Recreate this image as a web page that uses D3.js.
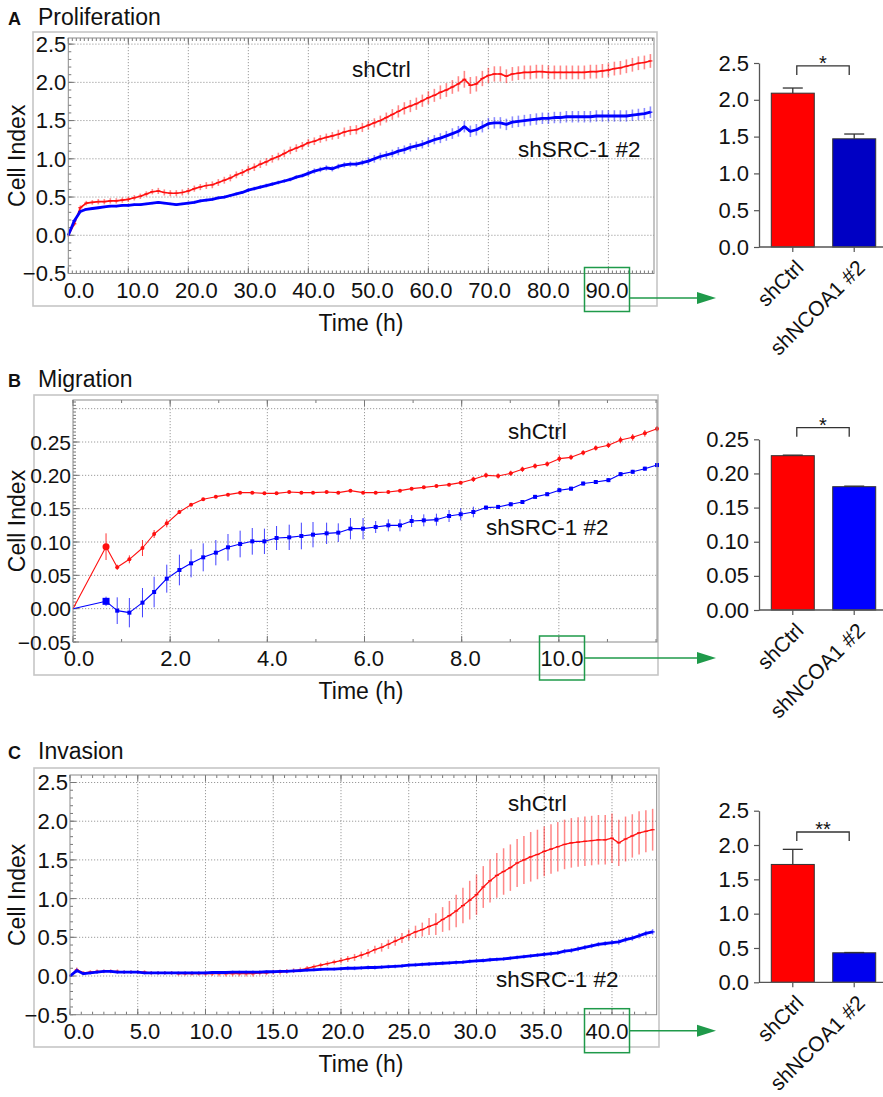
<!DOCTYPE html>
<html>
<head>
<meta charset="utf-8">
<script src="https://cdn.jsdelivr.net/npm/d3@7"></script>
<style>
  body { margin: 0; background: #fff; }
  text { font-family: "Liberation Sans", Arial, Helvetica, sans-serif; fill: #111; }
</style>
</head>
<body>
<svg id="fig" width="883" height="1097"></svg>
<script>
// ---------- data ----------

// A  Proliferation (every 1 h)
const profTime = d3.range(0, 98);
const profCtrl = [
  0.00, 0.15, 0.36, 0.42, 0.43, 0.44, 0.44, 0.45, 0.45, 0.46,
  0.47, 0.49, 0.51, 0.54, 0.57, 0.58, 0.56, 0.55, 0.55, 0.56,
  0.58, 0.61, 0.63, 0.65, 0.66, 0.69, 0.72, 0.75, 0.79, 0.82,
  0.86, 0.89, 0.93, 0.96, 1.00, 1.03, 1.07, 1.11, 1.14, 1.17,
  1.21, 1.23, 1.26, 1.28, 1.30, 1.32, 1.35, 1.37, 1.38, 1.41,
  1.44, 1.47, 1.50, 1.54, 1.58, 1.62, 1.66, 1.69, 1.72, 1.76,
  1.80, 1.83, 1.87, 1.90, 1.94, 1.98, 2.04, 1.96, 1.98, 2.05,
  2.09, 2.11, 2.11, 2.08, 2.11, 2.12, 2.13, 2.13, 2.14, 2.14,
  2.13, 2.13, 2.13, 2.13, 2.13, 2.13, 2.13, 2.14, 2.14, 2.15,
  2.16, 2.18, 2.19, 2.21, 2.23, 2.25, 2.26, 2.28];
const profCtrlErr = [
  0.02, 0.03, 0.03, 0.03, 0.03, 0.035, 0.035, 0.035, 0.035, 0.035,
  0.035, 0.035, 0.035, 0.035, 0.035, 0.04, 0.04, 0.04, 0.04, 0.04,
  0.04, 0.04, 0.04, 0.045, 0.045, 0.045, 0.045, 0.045, 0.045, 0.045,
  0.05, 0.05, 0.05, 0.05, 0.05, 0.05, 0.05, 0.05, 0.05, 0.05,
  0.05, 0.05, 0.05, 0.05, 0.05, 0.06, 0.06, 0.06, 0.06, 0.06,
  0.06, 0.06, 0.065, 0.065, 0.07, 0.08, 0.08, 0.08, 0.08, 0.08,
  0.085, 0.085, 0.09, 0.09, 0.09, 0.10, 0.11, 0.11, 0.10, 0.10,
  0.10, 0.10, 0.10, 0.09, 0.09, 0.09, 0.09, 0.09, 0.09, 0.09,
  0.09, 0.09, 0.09, 0.09, 0.09, 0.09, 0.09, 0.09, 0.09, 0.09,
  0.09, 0.09, 0.09, 0.09, 0.09, 0.09, 0.09, 0.09];
const profSrc = [
  0.00, 0.19, 0.31, 0.34, 0.35, 0.36, 0.37, 0.38, 0.38, 0.39,
  0.39, 0.40, 0.40, 0.41, 0.42, 0.43, 0.42, 0.41, 0.40, 0.41,
  0.42, 0.43, 0.45, 0.46, 0.47, 0.49, 0.50, 0.52, 0.54, 0.56,
  0.59, 0.61, 0.63, 0.65, 0.67, 0.69, 0.71, 0.73, 0.76, 0.78,
  0.81, 0.84, 0.86, 0.88, 0.87, 0.90, 0.92, 0.93, 0.93, 0.95,
  0.97, 1.00, 1.03, 1.05, 1.07, 1.10, 1.12, 1.15, 1.17, 1.19,
  1.22, 1.25, 1.27, 1.30, 1.33, 1.36, 1.42, 1.36, 1.38, 1.42,
  1.46, 1.47, 1.47, 1.45, 1.48, 1.49, 1.50, 1.51, 1.52, 1.53,
  1.53, 1.54, 1.54, 1.55, 1.55, 1.55, 1.55, 1.55, 1.56, 1.56,
  1.56, 1.56, 1.56, 1.56, 1.57, 1.58, 1.59, 1.61];
const profSrcErr = [
  0.01, 0.015, 0.015, 0.015, 0.015, 0.015, 0.015, 0.015, 0.015, 0.015,
  0.015, 0.015, 0.015, 0.015, 0.015, 0.015, 0.015, 0.015, 0.015, 0.015,
  0.02, 0.02, 0.02, 0.02, 0.02, 0.02, 0.02, 0.02, 0.02, 0.02,
  0.025, 0.025, 0.025, 0.025, 0.025, 0.025, 0.025, 0.025, 0.025, 0.025,
  0.035, 0.035, 0.035, 0.035, 0.035, 0.035, 0.035, 0.035, 0.035, 0.035,
  0.05, 0.05, 0.05, 0.05, 0.05, 0.055, 0.055, 0.055, 0.055, 0.055,
  0.06, 0.06, 0.065, 0.065, 0.07, 0.07, 0.075, 0.075, 0.075, 0.075,
  0.075, 0.075, 0.075, 0.075, 0.075, 0.075, 0.075, 0.075, 0.075, 0.075,
  0.075, 0.075, 0.075, 0.075, 0.075, 0.075, 0.075, 0.075, 0.075, 0.075,
  0.075, 0.075, 0.075, 0.075, 0.075, 0.075, 0.075, 0.075];

// B  Migration
const migTime = [
  0, 0.68, 0.91, 1.16, 1.43, 1.67, 1.93, 2.19, 2.43, 2.68,
  2.94, 3.19, 3.44, 3.69, 3.94, 4.19, 4.45, 4.70, 4.94, 5.22,
  5.46, 5.71, 5.97, 6.23, 6.49, 6.73, 6.97, 7.22, 7.48, 7.74,
  7.98, 8.24, 8.50, 8.75, 9.01, 9.25, 9.51, 9.76, 10.01, 10.25,
  10.50, 10.76, 11.02, 11.27, 11.52, 11.77, 12.02];
const migCtrl = [
  0, 0.093, 0.062, 0.074, 0.091, 0.112, 0.128, 0.145, 0.156, 0.164,
  0.168, 0.171, 0.174, 0.174, 0.173, 0.173, 0.175, 0.174, 0.174, 0.175,
  0.174, 0.177, 0.174, 0.174, 0.175, 0.177, 0.180, 0.182, 0.184, 0.186,
  0.189, 0.194, 0.200, 0.199, 0.203, 0.209, 0.214, 0.217, 0.225, 0.227,
  0.234, 0.241, 0.245, 0.253, 0.257, 0.263, 0.270];
const migCtrlErr = [
  0, 0.02, 0.004, 0.006, 0.012, 0.006, 0.006, 0.003, 0.002, 0.002,
  0.002, 0.002, 0.002, 0.002, 0.002, 0.002, 0.002, 0.002, 0.002, 0.002,
  0.002, 0.002, 0.002, 0.002, 0.002, 0.002, 0.002, 0.002, 0.002, 0.002,
  0.002, 0.004, 0.004, 0.004, 0.004, 0.004, 0.004, 0.004, 0.005, 0.004,
  0.004, 0.004, 0.004, 0.005, 0.005, 0.005, 0.004];
const migSrc = [
  0, 0.011, -0.003, -0.006, 0.009, 0.025, 0.045, 0.058, 0.068, 0.077,
  0.084, 0.092, 0.097, 0.101, 0.101, 0.106, 0.107, 0.109, 0.111, 0.113,
  0.114, 0.120, 0.120, 0.1225, 0.125, 0.125, 0.1315, 0.1325, 0.1335, 0.139,
  0.1416, 0.145, 0.1516, 0.1526, 0.1566, 0.160, 0.1677, 0.1717, 0.1777, 0.180,
  0.1877, 0.190, 0.1928, 0.2018, 0.2053, 0.210, 0.2154];
const migSrcErr = [
  0, 0.007, 0.02, 0.022, 0.022, 0.023, 0.021, 0.023, 0.021, 0.021,
  0.019, 0.02, 0.02, 0.02, 0.019, 0.018, 0.019, 0.02, 0.019, 0.016,
  0.014, 0.016, 0.016, 0.009, 0.009, 0.009, 0.009, 0.009, 0.009, 0.009,
  0.009, 0.008, 0.003, 0.003, 0.003, 0.003, 0.003, 0.003, 0.003, 0.003,
  0.003, 0.003, 0.003, 0.003, 0.003, 0.003, 0.003];

// C  Invasion (every 0.5 h)
const invTime = d3.range(0, 43.25, 0.5);
const invCtrl = [
  0.00, 0.08, 0.04, 0.05, 0.06, 0.06, 0.06, 0.06, 0.05, 0.05,
  0.05, 0.05, 0.04, 0.04, 0.04, 0.04, 0.03, 0.03, 0.03, 0.03,
  0.03, 0.03, 0.03, 0.03, 0.03, 0.03, 0.03, 0.03, 0.04, 0.04,
  0.05, 0.05, 0.06, 0.07, 0.08, 0.10, 0.12, 0.14, 0.16, 0.18,
  0.20, 0.22, 0.24, 0.27, 0.30, 0.34, 0.37, 0.41, 0.45, 0.49,
  0.53, 0.57, 0.60, 0.64, 0.67, 0.73, 0.78, 0.84, 0.91, 0.98,
  1.05, 1.15, 1.23, 1.30, 1.35, 1.40, 1.46, 1.50, 1.54, 1.57,
  1.61, 1.64, 1.67, 1.70, 1.72, 1.73, 1.74, 1.75, 1.76, 1.76,
  1.78, 1.72, 1.77, 1.81, 1.85, 1.87, 1.89];
const invCtrlErr = [
  0.01, 0.03, 0.025, 0.025, 0.025, 0.025, 0.025, 0.025, 0.025, 0.025,
  0.025, 0.025, 0.025, 0.025, 0.025, 0.025, 0.025, 0.025, 0.025, 0.025,
  0.03, 0.03, 0.035, 0.035, 0.035, 0.035, 0.035, 0.035, 0.03, 0.03,
  0.03, 0.03, 0.03, 0.03, 0.03, 0.03, 0.03, 0.03, 0.03, 0.03,
  0.04, 0.04, 0.045, 0.045, 0.05, 0.05, 0.055, 0.06, 0.06, 0.065,
  0.07, 0.08, 0.09, 0.11, 0.14, 0.16, 0.19, 0.21, 0.23, 0.25,
  0.26, 0.27, 0.28, 0.29, 0.30, 0.30, 0.31, 0.31, 0.32, 0.32,
  0.32, 0.32, 0.32, 0.32, 0.32, 0.32, 0.32, 0.32, 0.32, 0.32,
  0.32, 0.30, 0.29, 0.28, 0.28, 0.27, 0.27];
const invSrc = [
  0.00, 0.07, 0.03, 0.04, 0.05, 0.06, 0.06, 0.05, 0.05, 0.05,
  0.05, 0.04, 0.04, 0.04, 0.04, 0.04, 0.04, 0.04, 0.04, 0.04,
  0.04, 0.045, 0.045, 0.045, 0.05, 0.05, 0.05, 0.05, 0.05, 0.055,
  0.055, 0.06, 0.06, 0.065, 0.07, 0.075, 0.08, 0.085, 0.09, 0.09,
  0.095, 0.10, 0.10, 0.105, 0.11, 0.11, 0.115, 0.12, 0.125, 0.13,
  0.14, 0.145, 0.15, 0.155, 0.16, 0.165, 0.17, 0.175, 0.18, 0.19,
  0.195, 0.20, 0.21, 0.215, 0.22, 0.23, 0.24, 0.25, 0.26, 0.27,
  0.28, 0.29, 0.30, 0.32, 0.33, 0.35, 0.37, 0.39, 0.41, 0.42,
  0.43, 0.44, 0.47, 0.49, 0.52, 0.55, 0.57];
const invSrcErr = [
  0.01, 0.03, 0.02, 0.02, 0.02, 0.02, 0.02, 0.02, 0.02, 0.02,
  0.02, 0.02, 0.02, 0.02, 0.02, 0.02, 0.02, 0.02, 0.02, 0.02,
  0.02, 0.02, 0.02, 0.02, 0.02, 0.02, 0.02, 0.02, 0.02, 0.02,
  0.02, 0.02, 0.02, 0.02, 0.02, 0.02, 0.02, 0.02, 0.02, 0.02,
  0.025, 0.025, 0.025, 0.025, 0.025, 0.025, 0.025, 0.025, 0.025, 0.025,
  0.025, 0.025, 0.025, 0.025, 0.025, 0.025, 0.025, 0.025, 0.025, 0.025,
  0.025, 0.025, 0.025, 0.025, 0.025, 0.025, 0.025, 0.025, 0.025, 0.025,
  0.03, 0.03, 0.03, 0.03, 0.03, 0.03, 0.03, 0.03, 0.03, 0.03,
  0.035, 0.035, 0.035, 0.035, 0.035, 0.035, 0.035];

// bar charts (single time point)
const barGroups = ["shCtrl", "shNCOA1 #2"];
const profBar = [2.09, 1.47], profBarErr = [0.07, 0.065];
const migBar = [0.226, 0.1806], migBarErr = [0.0008, 0.0008];
const invBar = [1.717, 0.43], invBarErr = [0.22, 0.004];

// tick labels
const profXTicks = [0, 10, 20, 30, 40, 50, 60, 70, 80, 90];
const migXTicks = [0, 2, 4, 6, 8, 10];
const invXTicks = [0, 5, 10, 15, 20, 25, 30, 35, 40];
const bigYTicks = [-0.5, 0, 0.5, 1.0, 1.5, 2.0, 2.5];
const migYTicks = [-0.05, 0, 0.05, 0.10, 0.15, 0.20, 0.25];
const migYGrid = [0, 0.05, 0.10, 0.15, 0.20, 0.25, 0.30];
const barYTicksBig = [0, 0.5, 1.0, 1.5, 2.0, 2.5];
const barYTicksMig = [0, 0.05, 0.10, 0.15, 0.20, 0.25];

// ---------- drawing ----------
const svg = d3.select("#fig");
const RED = "#ff1010", BLUE = "#0000ff", GREEN = "#1f9a4a";
const FONT = '"Liberation Sans", Arial, Helvetica, sans-serif';

function signed(f) {
  const ff = d3.format(f);
  return d => (d < 0 ? "\u2212" : "") + ff(Math.abs(d));
}

function linePanel(p) {
  const g = svg.append("g");
  const x = d3.scaleLinear().domain(p.xDomain).range([p.left, p.right]);
  const y = d3.scaleLinear().domain(p.yDomain).range([p.bottom, p.top]);
  // the instrument software spreads its x labels a little narrower than the grid
  const xl = d3.scaleLinear().domain(d3.extent(p.xTicks)).range(p.labelRange);

  g.append("text").attr("x", 8).attr("y", p.titleY)
    .attr("font-size", 18).attr("font-weight", "bold").text(p.letter);
  g.append("text").attr("x", 38).attr("y", p.titleY)
    .attr("font-size", 23).text(p.title);

  g.append("rect")
    .attr("x", p.frame[0]).attr("y", p.frame[1])
    .attr("width", p.frame[2] - p.frame[0]).attr("height", p.frame[3] - p.frame[1])
    .attr("fill", "none").attr("stroke", "#c6c6c6").attr("stroke-width", 1.6);

  // dotted grid
  const grid = g.append("g").attr("stroke", "#9c9c9c").attr("stroke-width", 1)
    .attr("stroke-dasharray", "1.2,1.8");
  grid.selectAll(".gy").data(p.yGrid).join("line")
    .attr("x1", p.left).attr("x2", p.right)
    .attr("y1", d => y(d)).attr("y2", d => y(d));
  grid.selectAll(".gx").data(p.xTicks.filter(d => d > 0)).join("line")
    .attr("y1", p.top).attr("y2", p.bottom)
    .attr("x1", d => x(d)).attr("x2", d => x(d));

  // inward ticks
  const tk = g.append("g").attr("stroke", "#777").attr("stroke-width", 1);
  const xMinor = d3.range(0, p.xDomain[1], p.xMinor);
  const yMinor = d3.range(p.yTicks[0], p.yDomain[1], p.yMinor);
  tk.selectAll(".mb").data(xMinor).join("line")
    .attr("x1", d => x(d)).attr("x2", d => x(d)).attr("y1", p.bottom).attr("y2", p.bottom - 3);
  tk.selectAll(".mt").data(xMinor).join("line")
    .attr("x1", d => x(d)).attr("x2", d => x(d)).attr("y1", p.top).attr("y2", p.top + 3);
  tk.selectAll(".Mb").data(p.xTicks).join("line")
    .attr("x1", d => x(d)).attr("x2", d => x(d)).attr("y1", p.bottom).attr("y2", p.bottom - 6);
  tk.selectAll(".Mt").data(p.xTicks).join("line")
    .attr("x1", d => x(d)).attr("x2", d => x(d)).attr("y1", p.top).attr("y2", p.top + 6);
  tk.selectAll(".ml").data(yMinor).join("line")
    .attr("y1", d => y(d)).attr("y2", d => y(d)).attr("x1", p.left).attr("x2", p.left + 3);
  tk.selectAll(".Ml").data(p.yTicks).join("line")
    .attr("y1", d => y(d)).attr("y2", d => y(d)).attr("x1", p.left).attr("x2", p.left + 6);

  // series
  p.series.forEach(s => {
    const pts = s.t.map((t, i) => ({t: t, v: s.v[i], e: s.e[i]}));
    g.append("g").selectAll("line").data(pts).join("line")
      .attr("x1", d => x(d.t)).attr("x2", d => x(d.t))
      .attr("y1", d => y(d.v - d.e)).attr("y2", d => y(d.v + d.e))
      .attr("stroke", s.color).attr("stroke-opacity", s.errOpacity)
      .attr("stroke-width", s.errWidth || 1);
    g.append("path").datum(pts)
      .attr("d", d3.line().x(d => x(d.t)).y(d => y(d.v)))
      .attr("fill", "none").attr("stroke", s.color).attr("stroke-width", s.width)
      .attr("stroke-linejoin", "round");
    if (s.marker === "circle") {
      g.append("g").selectAll("circle").data(pts.slice(1)).join("circle")
        .attr("cx", d => x(d.t)).attr("cy", d => y(d.v))
        .attr("r", (d, i) => i === 0 ? 3.5 : 2).attr("fill", s.color);
    } else if (s.marker === "square") {
      g.append("g").selectAll("rect").data(pts.slice(1)).join("rect")
        .attr("x", (d, i) => x(d.t) - (i === 0 ? 3.5 : 2))
        .attr("y", (d, i) => y(d.v) - (i === 0 ? 3.5 : 2))
        .attr("width", (d, i) => i === 0 ? 7 : 4).attr("height", (d, i) => i === 0 ? 7 : 4)
        .attr("fill", s.color);
    } else if (s.marker === "plus") {
      g.append("g").selectAll("line").data(pts.slice(1)).join("line")
        .attr("x1", d => x(d.t) - 2).attr("x2", d => x(d.t) + 2)
        .attr("y1", d => y(d.v)).attr("y2", d => y(d.v))
        .attr("stroke", s.color).attr("stroke-width", 1.2);
    }
  });

  // plot border
  g.append("rect").attr("x", p.left).attr("y", p.top)
    .attr("width", p.right - p.left).attr("height", p.bottom - p.top)
    .attr("fill", "none").attr("stroke", "#8a8a8a").attr("stroke-width", 1);

  // labels
  g.append("g").selectAll("text").data(p.yTicks).join("text")
    .attr("x", p.left - 2).attr("y", d => y(d)).attr("dy", "0.36em")
    .attr("text-anchor", "end").attr("font-size", p.yFont).text(signed(p.yFmt));
  g.append("g").selectAll("text").data(p.xTicks).join("text")
    .attr("x", d => xl(d)).attr("y", p.bottom + 24)
    .attr("text-anchor", "middle").attr("font-size", 22).text(d3.format(".1f"));
  g.append("text").attr("transform", `translate(25,${(p.top + p.bottom) / 2}) rotate(-90)`)
    .attr("text-anchor", "middle").attr("font-size", 23).text("Cell Index");
  g.append("text").attr("x", 361).attr("y", p.bottom + 57)
    .attr("text-anchor", "middle").attr("font-size", 23).text("Time (h)");
  p.notes.forEach(n => {
    g.append("text").attr("x", n.x).attr("y", n.y).attr("font-size", 22.5).text(n.text);
  });

  // green box round the sampled time and arrow to the bar chart
  const bx = xl(p.boxTick);
  g.append("rect").attr("x", bx - 22.5).attr("y", p.bottom - 6)
    .attr("width", 45).attr("height", 44)
    .attr("fill", "none").attr("stroke", GREEN).attr("stroke-width", 1.5);
  g.append("line").attr("x1", bx + 22.5).attr("x2", 699)
    .attr("y1", p.arrowY).attr("y2", p.arrowY)
    .attr("stroke", GREEN).attr("stroke-width", 1.6);
  g.append("path")
    .attr("d", `M697,${p.arrowY - 6}L716,${p.arrowY}L697,${p.arrowY + 6}Z`)
    .attr("fill", GREEN);
}

function barPanel(b) {
  const g = svg.append("g");
  const y = d3.scaleLinear().domain([0, b.yMax]).range([b.y0, b.yTop]);
  const x = d3.scaleBand().domain(barGroups).range([759, 888])
    .paddingInner(0.3).paddingOuter(0.2);

  const yAxis = d3.axisLeft(y).tickValues(b.ticks).tickFormat(d3.format(b.fmt))
    .tickSize(5).tickSizeOuter(0).tickPadding(5);
  const ya = g.append("g").attr("transform", "translate(759,0)").call(yAxis)
    .attr("font-size", 22).attr("font-family", FONT);
  ya.select(".domain").attr("stroke", "#555").attr("stroke-width", 1.3);
  ya.selectAll(".tick line").attr("stroke", "#555").attr("stroke-width", 1.2);
  ya.selectAll(".tick text").attr("fill", "#111");

  const data = barGroups.map((k, i) => ({k: k, v: b.values[i], e: b.errs[i], c: b.colors[i]}));

  g.selectAll(".bar").data(data).join("rect")
    .attr("x", d => x(d.k)).attr("width", x.bandwidth())
    .attr("y", d => y(d.v)).attr("height", d => y(0) - y(d.v))
    .attr("fill", d => d.c).attr("stroke", "#333").attr("stroke-width", 1);

  const eb = g.append("g").attr("stroke", "#333").attr("stroke-width", 1.3);
  eb.selectAll(".ev").data(data).join("line")
    .attr("x1", d => x(d.k) + x.bandwidth() / 2).attr("x2", d => x(d.k) + x.bandwidth() / 2)
    .attr("y1", d => y(d.v)).attr("y2", d => y(d.v + d.e));
  eb.selectAll(".ec").data(data).join("line")
    .attr("x1", d => x(d.k) + x.bandwidth() / 2 - 10).attr("x2", d => x(d.k) + x.bandwidth() / 2 + 10)
    .attr("y1", d => y(d.v + d.e)).attr("y2", d => y(d.v + d.e));

  // x axis
  g.append("line").attr("x1", 759).attr("x2", 883).attr("y1", y(0)).attr("y2", y(0))
    .attr("stroke", "#555").attr("stroke-width", 1.3);
  g.selectAll(".xt").data(barGroups).join("line")
    .attr("x1", d => x(d) + x.bandwidth() / 2).attr("x2", d => x(d) + x.bandwidth() / 2)
    .attr("y1", y(0)).attr("y2", y(0) + 5).attr("stroke", "#555").attr("stroke-width", 1.2);
  g.selectAll(".xl").data(barGroups).join("text")
    .attr("transform", d => `translate(${x(d) + x.bandwidth() / 2 + 12},${y(0) + 22}) rotate(-45)`)
    .attr("text-anchor", "end").attr("font-size", 21).text(d => d);

  // significance bracket
  const c0 = x(barGroups[0]) + x.bandwidth() / 2 + 4;
  const c1 = x(barGroups[1]) + x.bandwidth() / 2 - 5;
  const sy = y(b.sigLevel);
  g.append("path").attr("d", `M${c0},${sy + 9}V${sy}H${c1}V${sy + 9}`)
    .attr("fill", "none").attr("stroke", "#333").attr("stroke-width", 1.3);
  g.append("text").attr("x", (c0 + c1) / 2).attr("y", sy + 4)
    .attr("text-anchor", "middle").attr("font-size", 20).text(b.stars);
}

linePanel({
  letter: "A", title: "Proliferation", titleY: 25,
  frame: [33, 32, 657, 306], left: 68.3, right: 654, top: 38, bottom: 273.5,
  xDomain: [0, 97.6], yDomain: [-0.5, 2.58],
  xTicks: profXTicks, labelRange: [79, 607],
  yTicks: bigYTicks, yGrid: bigYTicks.slice(1), yFmt: ".1f", yFont: 22,
  xMinor: 10 / 15, yMinor: 0.1,
  series: [
    {t: profTime, v: profCtrl, e: profCtrlErr, color: RED, width: 1.6, errOpacity: 0.5, errWidth: 1.6, marker: "plus"},
    {t: profTime, v: profSrc, e: profSrcErr, color: BLUE, width: 2.8, errOpacity: 0.45, errWidth: 1.6, marker: "plus"}
  ],
  notes: [{text: "shCtrl", x: 352, y: 77}, {text: "shSRC-1 #2", x: 518, y: 157}],
  boxTick: 90, arrowY: 298
});

linePanel({
  letter: "B", title: "Migration", titleY: 387,
  frame: [34, 395, 658, 675], left: 73, right: 657, top: 400, bottom: 642,
  xDomain: [0, 12.02], yDomain: [-0.05, 0.313],
  xTicks: migXTicks, labelRange: [79, 562],
  yTicks: migYTicks, yGrid: migYGrid, yFmt: ".2f", yFont: 21,
  xMinor: 1, yMinor: 0.005,
  series: [
    {t: migTime, v: migCtrl, e: migCtrlErr, color: RED, width: 1.1, errOpacity: 0.85, marker: "circle"},
    {t: migTime, v: migSrc, e: migSrcErr, color: BLUE, width: 1.1, errOpacity: 0.75, marker: "square"}
  ],
  notes: [{text: "shCtrl", x: 508, y: 439}, {text: "shSRC-1 #2", x: 486, y: 535}],
  boxTick: 10, arrowY: 658
});

linePanel({
  letter: "C", title: "Invasion", titleY: 759,
  frame: [34, 768, 659, 1047], left: 70, right: 656.7, top: 775, bottom: 1014.7,
  xDomain: [0, 43.3], yDomain: [-0.5, 2.597],
  xTicks: invXTicks, labelRange: [79, 607],
  yTicks: bigYTicks, yGrid: bigYTicks.slice(1), yFmt: ".1f", yFont: 22,
  xMinor: 5 / 6, yMinor: 0.1,
  series: [
    {t: invTime, v: invCtrl, e: invCtrlErr, color: RED, width: 1.3, errOpacity: 0.5, errWidth: 1.5, marker: "plus"},
    {t: invTime, v: invSrc, e: invSrcErr, color: BLUE, width: 2.8, errOpacity: 0.5, errWidth: 1.5, marker: "plus"}
  ],
  notes: [{text: "shCtrl", x: 508, y: 811}, {text: "shSRC-1 #2", x: 496, y: 987}],
  boxTick: 40, arrowY: 1030.7
});

barPanel({y0: 247, yTop: 63, yMax: 2.5, ticks: barYTicksBig, fmt: ".1f",
  values: profBar, errs: profBarErr, colors: ["#ff0000", "#0000c4"], sigLevel: 2.46, stars: "*"});
barPanel({y0: 610, yTop: 439.3, yMax: 0.25, ticks: barYTicksMig, fmt: ".2f",
  values: migBar, errs: migBarErr, colors: ["#ff0000", "#0000ff"], sigLevel: 0.267, stars: "*"});
barPanel({y0: 982.3, yTop: 810.7, yMax: 2.5, ticks: barYTicksBig, fmt: ".1f",
  values: invBar, errs: invBarErr, colors: ["#ff0000", "#0000ee"], sigLevel: 2.19, stars: "**"});
</script>
</body>
</html>
